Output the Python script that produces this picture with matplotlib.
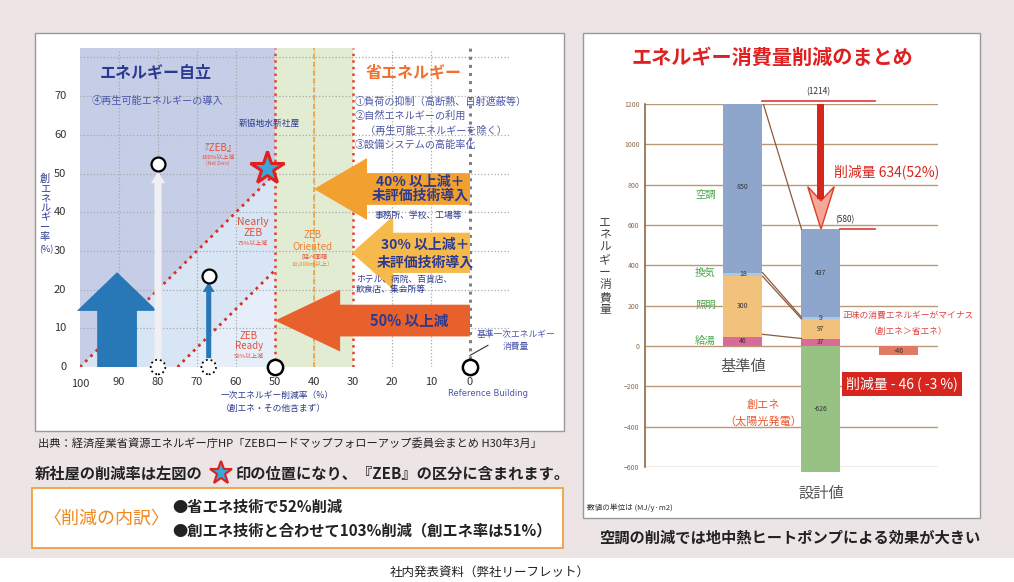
import numpy as np
import matplotlib.pyplot as plt
from matplotlib.patches import Rectangle, Polygon

plt.rcParams['font.family'] = ['Noto Sans CJK JP', 'DejaVu Sans']

W, H = 1014, 582

# --- left chart (ZEB map) ---
x_ticks = [100, 90, 80, 70, 60, 50, 40, 30, 20, 10, 0]
y_ticks = [0, 10, 20, 30, 40, 50, 60, 70]
zeb_intercepts = [100, 75]          # boundary lines y = c - x  (ZEB / Nearly ZEB)
new_building = (52, 51.5)           # 新社屋 (省エネ52%, 創エネ51%)
example_white = (80, 52.5)
example_blue = (67, 23.5)
open_points_x = [50, 0]
dotted_points_x = [80, 67]

# --- right chart (energy summary) ---
categories = ['基準値', '設計値']
uses = ['給湯', '照明', '換気', '空調']
base_vals = [46, 300, 18, 850]
design_vals = [37, 97, 9, 437]
creation_val = -626
net_val = -46
r_ticks = [-600, -400, -200, 0, 200, 400, 600, 800, 1000, 1200]
use_colors = ['#d96a9a', '#f2c27c', '#a8c8e8', '#8fa6cc']

NAVY = '#2b3990'
LBLUE = '#4a56a8'
RED = '#d7261e'


def fx(px):
    return px / W


def fy(py):
    return 1 - py / H


def add_ax(x0, y0, x1, y1):
    return fig.add_axes([x0 / W, 1 - y1 / H, (x1 - x0) / W, (y1 - y0) / H])


def left_arrow(ax, tip, base_x, head_half, body_half, end_x, color, z=4):
    tx, ty = tip
    pts = [(tx, ty), (base_x, ty + head_half), (base_x, ty + body_half), (end_x, ty + body_half),
           (end_x, ty - body_half), (base_x, ty - body_half), (base_x, ty - head_half)]
    ax.add_patch(Polygon(pts, closed=True, facecolor=color, lw=0, zorder=z, clip_on=False))


def up_arrow(ax, x, y0, y1, head_len, head_half, body_half, color, z=4):
    pts = [(x - body_half, y0), (x - body_half, y1 - head_len), (x - head_half, y1 - head_len), (x, y1),
           (x + head_half, y1 - head_len), (x + body_half, y1 - head_len), (x + body_half, y0)]
    ax.add_patch(Polygon(pts, closed=True, facecolor=color, lw=0, zorder=z, clip_on=False))


fig = plt.figure(figsize=(W / 100, H / 100), dpi=100)
fig.patch.set_facecolor('white')
fig.patches.append(Rectangle((0, fy(558)), 1, 558 / H, transform=fig.transFigure,
                             facecolor='#ede4e5', lw=0, zorder=-3))
# panels
fig.patches.append(Rectangle((fx(35), fy(431)), (564 - 35) / W, (431 - 33) / H, transform=fig.transFigure,
                             facecolor='white', edgecolor='#999999', lw=1, zorder=-2))
fig.patches.append(Rectangle((fx(583), fy(518)), (980 - 583) / W, (518 - 33) / H, transform=fig.transFigure,
                             facecolor='white', edgecolor='#999999', lw=1, zorder=-2))

# ================= left chart =================
ax1 = add_ax(80, 45.8, 528.5, 367)
ax1.set_xlim(100, -15)
ax1.set_ylim(0, 83)
ax1.axis('off')
ytop = 82.4

ax1.fill_between([100, 50], 0, ytop, color='#c6cee7', lw=0, zorder=1)
ax1.fill_between([50, 30], 0, ytop, color='#e2ecd3', lw=0, zorder=1)
c1, c2 = zeb_intercepts
ax1.add_patch(Polygon([(c1, 0), (50, c1 - 50), (50, 0)], facecolor='#d8e5f4', lw=0, zorder=1.2))
ax1.add_patch(Polygon([(c2, 0), (50, c2 - 50), (50, 0)], facecolor='#e6eff9', lw=0, zorder=1.3))

for x in x_ticks[1:-1]:
    if x in (50, 30):
        continue
    ax1.plot([x, x], [0, 82], ls=':', color='#a8a8a8', lw=0.9, zorder=2)
for y in y_ticks[1:] + [80]:
    ax1.plot([100, -10], [y, y], ls=':', color='#a8a8a8', lw=0.9, zorder=2)
ax1.plot([0, 0], [0, 82.5], ls=':', color='#808080', lw=2.2, zorder=2.5)
for x in (50, 30):
    ax1.plot([x, x], [0, 82.5], ls=':', color='#e8402a', lw=1.8, zorder=2.5)
ax1.plot([40, 40], [0, 82.5], ls='--', color='#f5a030', lw=1.2, dashes=(3, 2), zorder=2.5)
for c in zeb_intercepts:
    ax1.plot([c, 50], [0, c - 50], ls=':', color='#d93025', lw=2, zorder=2.6)

# arrows
up_arrow(ax1, 90.5, 0, 24.5, 10, 10.3, 5.1, '#2878b8')
up_arrow(ax1, example_white[0], 0, example_white[1] - 2, 3, 1.8, 0.9, '#f0f0f3')
up_arrow(ax1, example_blue[0], 2.3, example_blue[1] - 1.5, 2.6, 1.5, 0.65, '#2878b8')
left_arrow(ax1, (30.3, 29.5), 19.7, 9.5, 5.2, 0, '#f6b94c')
left_arrow(ax1, (40, 46), 26.4, 8, 4.1, 0, '#f2a030', z=4.5)
left_arrow(ax1, (50, 12), 33.3, 8, 4.1, 0, '#e8602c')

# axes with arrow heads
ax1.annotate('', xy=(100, 83.6), xytext=(100, -0.3),
             arrowprops=dict(arrowstyle='->', lw=2.6, color='black', mutation_scale=20), zorder=6)
ax1.annotate('', xy=(-15.6, 0), xytext=(100.3, 0),
             arrowprops=dict(arrowstyle='->', lw=2.6, color='black', mutation_scale=20), zorder=6)

# points
ax1.plot([example_white[0], example_blue[0]], [example_white[1], example_blue[1]], 'o', ms=10,
         mfc='white', mec='black', mew=1.6, zorder=8, clip_on=False)
ax1.plot(open_points_x, [0, 0], 'o', ms=11, mfc='white', mec='black', mew=1.8, zorder=8, clip_on=False)
ax1.scatter(dotted_points_x, [0, 0], s=110, facecolor='white', edgecolor='black', linestyle=':',
            linewidths=1.3, zorder=8, clip_on=False)
ax1.plot(*new_building, marker='*', ms=25, mfc='#3aa6dc', mec='#e0201c', mew=2.2, zorder=9)

# tick labels
for x in x_ticks:
    ax1.text(x, -3.8 if x != 100 else -4.3, str(x), ha='center', va='center', fontsize=8, color='#333333')
for y in y_ticks:
    ax1.text(103.5, y, str(y), ha='right', va='center', fontsize=8, color='#333333')

ax1.text(49.5, -7.3, '一次エネルギー削減率（%）', ha='center', va='center', fontsize=6.3, color=NAVY)
ax1.text(50.5, -10.7, '（創エネ・その他含まず）', ha='center', va='center', fontsize=6.3, color=NAVY)
ax1.text(-4.6, -6.8, 'Reference Building', ha='center', va='center', fontsize=6, color='#4a56a8',
         family='DejaVu Sans')
fig.text(fx(45), fy(208), '\n'.join('創エネルギー率'), ha='center', va='center', fontsize=7.3,
         color=NAVY, linespacing=0.95)
fig.text(fx(46), fy(250), '(%)', ha='center', va='center', fontsize=6.5, color=NAVY)

# region labels
ax1.text(94.9, 76, 'エネルギー自立', ha='left', va='center', fontsize=11.5, fontweight='bold', color=NAVY)
ax1.text(96.9, 68.7, '④再生可能エネルギーの導入', ha='left', va='center', fontsize=7.3, color=LBLUE)
ax1.text(59.2, 63, '新協地水新社屋', ha='left', va='center', fontsize=6.3, color=NAVY)
ax1.text(64.6, 56.6, '『ZEB』', ha='center', va='center', fontsize=7, color='#e0503a')
ax1.text(64.6, 54.2, '100%以上減', ha='center', va='center', fontsize=4.3, color='#e0503a')
ax1.text(64.6, 52.6, '(Net Zero)', ha='center', va='center', fontsize=3.5, color='#e0503a')
ax1.text(55.6, 37.4, 'Nearly', ha='center', va='center', fontsize=7.5, color='#e0503a')
ax1.text(55.6, 34.5, 'ZEB', ha='center', va='center', fontsize=7.5, color='#e0503a')
ax1.text(55.6, 32.0, '75%以上減', ha='center', va='center', fontsize=4.3, color='#e0503a')
ax1.text(40.3, 34.1, 'ZEB', ha='center', va='center', fontsize=7, color='#f08030')
ax1.text(40.3, 31.0, 'Oriented', ha='center', va='center', fontsize=7, color='#f08030')
ax1.text(40.3, 28.5, '（延べ面積', ha='center', va='center', fontsize=4.3, color='#e0503a')
ax1.text(40.3, 26.7, '10,000㎡以上）', ha='center', va='center', fontsize=4.3, color='#f08030')
ax1.text(56.7, 8.1, 'ZEB', ha='center', va='center', fontsize=7, color='#e0503a')
ax1.text(56.7, 5.3, 'Ready', ha='center', va='center', fontsize=7, color='#e0503a')
ax1.text(56.7, 2.9, '50%以上減', ha='center', va='center', fontsize=4.3, color='#e0503a')

ax1.text(26.9, 76, '省エネルギー', ha='left', va='center', fontsize=11.5, fontweight='bold', color='#f07030')
for yv, s in [(68.7, '①負荷の抑制（高断熱、日射遮蔽等）'), (64.9, '②自然エネルギーの利用'),
              (61.1, '　（再生可能エネルギーを除く）'), (57.4, '③設備システムの高能率化')]:
    ax1.text(29.5, yv, s, ha='left', va='center', fontsize=7.3, color=LBLUE)

ax1.text(12.8, 47.8, '40% 以上減＋', ha='center', va='center', fontsize=10, fontweight='bold', color=NAVY, zorder=7)
ax1.text(12.8, 44.3, '未評価技術導入', ha='center', va='center', fontsize=10, fontweight='bold', color=NAVY, zorder=7)
ax1.text(13.2, 39.2, '事務所、学校、工場等', ha='center', va='center', fontsize=6.3, color=NAVY, zorder=7)
ax1.text(11.5, 31.5, '30% 以上減＋', ha='center', va='center', fontsize=10, fontweight='bold', color=NAVY, zorder=7)
ax1.text(11.5, 27.1, '未評価技術導入', ha='center', va='center', fontsize=10, fontweight='bold', color=NAVY, zorder=7)
ax1.text(29.2, 22.7, 'ホテル、病院、百貨店、', ha='left', va='center', fontsize=6.3, color=NAVY, zorder=7)
ax1.text(29.2, 19.9, '飲食店、集会所等', ha='left', va='center', fontsize=6.3, color=NAVY, zorder=7)
ax1.text(15.5, 12, '50% 以上減', ha='center', va='center', fontsize=10.5, fontweight='bold', color=NAVY, zorder=7)
ax1.text(-11.7, 8.3, '基準一次エネルギー', ha='center', va='center', fontsize=6.3, color=LBLUE)
ax1.text(-11.7, 5.2, '消費量', ha='center', va='center', fontsize=6.3, color=LBLUE)
ax1.plot([-4.6, 0], [5.6, 3.0], color='#333333', lw=0.8, zorder=6, clip_on=False)

# texts under left panel
fig.text(fx(38), fy(443), '出典：経済産業省資源エネルギー庁HP「ZEBロードマップフォローアップ委員会まとめ H30年3月」',
         ha='left', va='center', fontsize=8.1, color='#222222')
fig.text(fx(35), fy(474), '新社屋の削減率は左図の', ha='left', va='center', fontsize=11, fontweight='bold', color='#222222')
fig.text(fx(236), fy(474), '印の位置になり、『ZEB』の区分に含まれます。', ha='left', va='center',
         fontsize=11, fontweight='bold', color='#222222')
fig.lines.append(plt.Line2D([fx(221)], [fy(473)], marker='*', ms=17, mfc='#3aa6dc', mec='#e0201c', mew=1.5,
                            transform=fig.transFigure))
fig.patches.append(Rectangle((fx(32), fy(548)), (563 - 32) / W, (548 - 488) / H, transform=fig.transFigure,
                             facecolor='white', edgecolor='#f0a040', lw=1.3, zorder=1))
fig.text(fx(43), fy(518), '〈削減の内訳〉', ha='left', va='center', fontsize=13, color='#f08a20')
fig.text(fx(172), fy(507), '●省エネ技術で52%削減', ha='left', va='center', fontsize=11, fontweight='bold', color='#222222')
fig.text(fx(172), fy(530), '●創エネ技術と合わせて103%削減（創エネ率は51%）', ha='left', va='center',
         fontsize=11, fontweight='bold', color='#222222')
fig.text(fx(490), fy(572), '社内発表資料（弊社リーフレット）', ha='center', va='center', fontsize=9, color='#222222')

# ================= right chart =================
ax2 = add_ax(645, 104, 938, 467)
ax2.set_xlim(-1.256, 2.5)
ax2.set_ylim(-600, 1200)
for s in ['top', 'right', 'bottom']:
    ax2.spines[s].set_visible(False)
ax2.spines['left'].set_color('#8b6a4a')
ax2.spines['left'].set_linewidth(1.2)
ax2.set_xticks([])
ax2.set_yticks(r_ticks)
ax2.tick_params(axis='y', length=0, pad=4, labelsize=5, labelcolor='#8b6a4a')
ax2.grid(axis='y', color='#b8997a', lw=1)
ax2.set_axisbelow(True)
ax2.set_facecolor('none')

pos = np.arange(len(categories))
bb = np.concatenate([[0], np.cumsum(base_vals)[:-1]])
bd = np.concatenate([[0], np.cumsum(design_vals)[:-1]])
for i in range(len(uses)):
    ax2.bar(pos, [base_vals[i], design_vals[i]], bottom=[bb[i], bd[i]], width=0.5,
            color=use_colors[i], zorder=3)
    for p, v, b in zip(pos, [base_vals[i], design_vals[i]], [bb[i], bd[i]]):
        ax2.text(p, b + v / 2, str(v), ha='center', va='center', fontsize=5, color='#333333', zorder=5)
cr = ax2.bar(pos[1], creation_val, width=0.5, color='#97c283', zorder=3)
for p in cr:
    p.set_clip_on(False)
ax2.text(pos[1], creation_val / 2, str(creation_val), ha='center', va='center', fontsize=5, color='#333333')
ax2.bar(2, net_val, width=0.5, color='#e07a62', zorder=3)
ax2.text(2, net_val / 2, str(net_val), ha='center', va='center', fontsize=5, color='#333333', zorder=5)

tot_b = sum(base_vals)
tot_d = sum(design_vals)
cb = np.cumsum(base_vals)
cd = np.cumsum(design_vals)
line_kw = dict(color='#8b5a3c', lw=0.9, zorder=4)
ax2.plot([0.25, 0.75], [tot_b, tot_d], **line_kw)
ax2.plot([0.25, 0.75], [cb[2], cd[2]], **line_kw)
ax2.plot([0.25, 0.75], [cb[1], cd[1]], **line_kw)
ax2.plot([0.25, 0.75], [cb[0] + 12, cd[0]], **line_kw)

# use labels
for u, yv in zip(['空調', '換気', '照明', '給湯'], [749, 362, 203, 25]):
    ax2.text(-0.48, yv, u, ha='center', va='center', fontsize=7.5, color='#4aa84a')
ax2.text(0, -104, categories[0], ha='center', va='center', fontsize=11, color='#555555')
ax2.text(1, -729, categories[1], ha='center', va='center', fontsize=11, color='#555555')
ax2.text(0.26, -293, '創エネ', ha='center', va='center', fontsize=8, color='#e85a30')
ax2.text(0.26, -372, '（太陽光発電）', ha='center', va='center', fontsize=8, color='#e85a30')

# reduction arrow
ax2.plot([0.25, 1.69], [tot_b, tot_b], color='#e04848', lw=1.3, zorder=5, clip_on=False)
ax2.plot([1.25, 1.69], [tot_d, tot_d], color='#e04848', lw=1.3, zorder=5, clip_on=False)
ax2.add_patch(Rectangle((1 - 0.045, 700), 0.09, tot_b - 700, facecolor=RED, lw=0, zorder=6))
ax2.add_patch(Polygon([(0.83, 790), (1, 720), (1.17, 790), (1, tot_d)], closed=True,
                      facecolor='#f4a898', edgecolor='#e03a2a', lw=1, zorder=6))
ax2.add_patch(Rectangle((1 - 0.045, 730), 0.09, 100, facecolor=RED, lw=0, zorder=6.5))
ax2.text(0.96, 1262, f'({tot_b})', ha='center', va='center', fontsize=6, color='#333333')
ax2.text(1.31, 628, f'({tot_d})', ha='center', va='center', fontsize=6, color='#333333')
ax2.text(1.17, 863, f'削減量 {tot_b - tot_d}(52%)', ha='left', va='center', fontsize=10, color=RED)
ax2.text(2.12, 150, '正味の消費エネルギーがマイナス', ha='center', va='center', fontsize=6.3, color='#e04040')
ax2.text(2.12, 70, '（創エネ＞省エネ）', ha='center', va='center', fontsize=6.3, color='#e04040')
ax2.text(2.04, -188, f'削減量 - {abs(net_val)} ( -3 %)', ha='center', va='center', fontsize=10, color='white',
         bbox=dict(boxstyle='square,pad=0.3', facecolor=RED, edgecolor='none'), zorder=7)

fig.text(fx(605), fy(266), '\n'.join('エネルギー消費量'), ha='center', va='center', fontsize=8.5,
         color='#444444', linespacing=0.95)
fig.text(fx(772), fy(57), 'エネルギー消費量削減のまとめ', ha='center', va='center', fontsize=14.5,
         fontweight='bold', color='#e02020')
fig.text(fx(587), fy(508), '数値の単位は (MJ/y·m2)', ha='left', va='center', fontsize=5.5, color='#333333')
fig.text(fx(790), fy(538), '空調の削減では地中熱ヒートポンプによる効果が大きい', ha='center', va='center',
         fontsize=11, fontweight='bold', color='#222222')

fig.savefig('out.png', dpi=100)
